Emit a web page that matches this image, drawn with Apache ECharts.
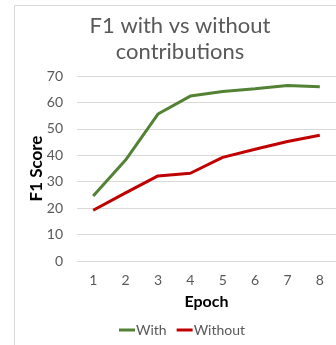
<!DOCTYPE html>
<html><head><meta charset="utf-8">
<script src="https://cdn.jsdelivr.net/npm/echarts@6/dist/echarts.min.js"></script>
<style>html,body{margin:0;padding:0;background:#fff}#c{width:336px;height:345px}</style>
</head><body><div id="c"></div>
<script>
const epochs = ['1','2','3','4','5','6','7','8'];
const withVals = [24.6, 38.2, 55.6, 62.4, 64.1, 65.2, 66.4, 65.9];
const withoutVals = [19.2, 25.8, 32.2, 33.2, 39.2, 42.3, 45.2, 47.6];
const titleText = 'F1 with vs without\ncontributions';
const chart = echarts.init(document.getElementById('c'), null, {renderer:'canvas'});
const font = 'Lato, "Open Sans", sans-serif';
chart.setOption({
  animation:false,
  graphic:[
    {type:'rect',shape:{x:14.5,y:5.5,width:400,height:400},style:{fill:'none',stroke:'#d9d9d9',lineWidth:1},z:-1},
    {type:'text',x:180,y:13,style:{text:titleText,textAlign:'center',textVerticalAlign:'top',
      font:'22px '+font,fill:'#595959',lineHeight:26}}
  ],
  legend:{bottom:3,left:114,itemWidth:16,itemHeight:3,itemGap:10,icon:'rect',
    textStyle:{fontFamily:font,fontSize:14,color:'#595959',padding:[0,0,0,-4]},
    data:['With','Without']},
  grid:{left:77,top:76,width:261,height:185},
  xAxis:{type:'category',data:epochs,boundaryGap:true,
    name:'Epoch',nameLocation:'middle',nameGap:33,nameMoveOverlap:false,
    nameTextStyle:{fontFamily:font,fontSize:16,fontWeight:'bold',color:'#000'},
    axisLine:{show:false},axisTick:{show:false},
    axisLabel:{fontFamily:font,fontSize:14,color:'#595959',margin:12}},
  yAxis:{type:'value',min:0,max:70,interval:10,
    name:'F1 Score',nameLocation:'middle',nameGap:32,nameMoveOverlap:false,
    nameTextStyle:{fontFamily:font,fontSize:17,fontWeight:'bold',color:'#000'},
    axisLabel:{fontFamily:font,fontSize:14,color:'#595959',margin:14},
    splitLine:{lineStyle:{color:'#d9d9d9',width:1}}},
  series:[
    {name:'With',type:'line',data:withVals,symbol:'none',lineStyle:{width:3,color:'#548235'},itemStyle:{color:'#548235'}},
    {name:'Without',type:'line',data:withoutVals,symbol:'none',lineStyle:{width:3,color:'#c00000'},itemStyle:{color:'#c00000'}}
  ]
});
</script></body></html>
